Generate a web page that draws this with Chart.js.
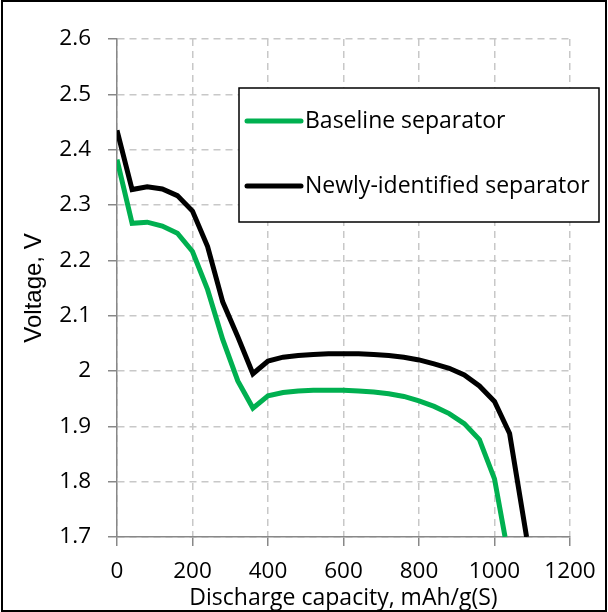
<!DOCTYPE html>
<html>
<head>
<meta charset="utf-8">
<script src="https://cdn.jsdelivr.net/npm/chart.js@4.4.0/dist/chart.umd.min.js"></script>
<style>
    html, body { margin: 0; padding: 0; background: #fff; }
    #wrap { width: 608px; height: 612px; position: relative; }
</style>
</head>
<body>
<div id="wrap"><canvas id="chart" width="608" height="612"></canvas></div>
<script>
// capacity (mAh/g(S)) and voltage (V)
const capacityBaseline = [0, 40, 80, 120, 160, 200, 240, 280, 320, 360, 400, 440, 480, 520, 560, 600, 640, 680, 720, 760, 800, 840, 880, 920, 960, 1000, 1028];
const voltageBaseline = [2.382, 2.267, 2.269, 2.262, 2.249, 2.216, 2.147, 2.057, 1.982, 1.933, 1.955, 1.961, 1.964, 1.965, 1.965, 1.965, 1.964, 1.962, 1.959, 1.954, 1.946, 1.936, 1.923, 1.905, 1.876, 1.805, 1.70];

const capacityNew = [0, 40, 80, 120, 160, 200, 240, 280, 320, 360, 400, 440, 480, 520, 560, 600, 640, 680, 720, 760, 800, 840, 880, 920, 960, 1000, 1040, 1085];
const voltageNew = [2.435, 2.328, 2.333, 2.329, 2.317, 2.289, 2.225, 2.125, 2.062, 1.995, 2.018, 2.025, 2.028, 2.030, 2.031, 2.031, 2.031, 2.030, 2.028, 2.025, 2.020, 2.013, 2.005, 1.993, 1.973, 1.945, 1.887, 1.70];

const seriesLabels = ['Baseline separator', 'Newly-identified separator'];
const seriesColors = ['#00B050', '#000000'];

const FONT = '"Open Sans", Lato, sans-serif';
const TITLE_FONT = '"Liberation Sans", Arial, sans-serif';

function toPoints(xs, ys) {
    return xs.map((x, i) => ({ x: x, y: ys[i] }));
}

// legend box drawn by hand, it sits over the plot and pokes out on the right
const boxLegend = {
    id: 'boxLegend',
    afterDraw(chart) {
        const ctx = chart.ctx;
        ctx.save();
        ctx.fillStyle = '#fff';
        ctx.fillRect(239, 88, 360, 134);
        ctx.strokeStyle = '#000';
        ctx.lineWidth = 1.5;
        ctx.strokeRect(239, 88, 360, 134);

        const rows = [121, 186];
        ctx.font = '23px ' + FONT;
        ctx.textBaseline = 'middle';
        rows.forEach((y, i) => {
            ctx.strokeStyle = seriesColors[i];
            ctx.lineWidth = 5;
            ctx.lineCap = 'round';
            ctx.beginPath();
            ctx.moveTo(247, y);
            ctx.lineTo(301, y);
            ctx.stroke();
            ctx.fillStyle = '#000';
            ctx.fillText(seriesLabels[i], 305, y);
        });

        // figure frame
        ctx.strokeStyle = '#000';
        ctx.lineWidth = 2;
        ctx.strokeRect(2, 1, 604, 610);
        ctx.restore();
    }
};

const gridStyle = {
    color: '#c8c8c8',
    lineWidth: 1.5,
    tickColor: '#888',
    tickLength: 9,
    tickBorderDash: []
};

const ctx = document.getElementById('chart').getContext('2d');
new Chart(ctx, {
    type: 'scatter',
    data: {
        datasets: [
            {
                label: seriesLabels[0],
                data: toPoints(capacityBaseline, voltageBaseline),
                showLine: true,
                borderColor: seriesColors[0],
                borderWidth: 5,
                pointRadius: 0,
                tension: 0
            },
            {
                label: seriesLabels[1],
                data: toPoints(capacityNew, voltageNew),
                showLine: true,
                borderColor: seriesColors[1],
                borderWidth: 5,
                pointRadius: 0,
                tension: 0
            }
        ]
    },
    options: {
        responsive: false,
        animation: false,
        layout: { padding: { left: 20, right: 38, top: 39, bottom: 0 } },
        plugins: {
            legend: { display: false },
            tooltip: { enabled: false }
        },
        scales: {
            x: {
                type: 'linear',
                min: 0,
                max: 1200,
                ticks: {
                    stepSize: 200,
                    color: '#000',
                    font: { family: FONT, size: 22.5 },
                    padding: 12,
                    callback: (v) => String(v)
                },
                grid: gridStyle,
                border: { color: '#888', width: 1.5, dash: [7, 5] },
                title: {
                    display: true,
                    text: 'Discharge capacity, mAh/g(S)',
                    color: '#000',
                    font: { family: FONT, size: 23 },
                    padding: { top: 0, bottom: 0 }
                },
                afterFit(scale) {
                    scale.height = 75;
                    scale.paddingLeft = 0;
                    scale.paddingRight = 0;
                }
            },
            y: {
                min: 1.7,
                max: 2.6,
                ticks: {
                    stepSize: 0.1,
                    color: '#000',
                    font: { family: FONT, size: 22.5 },
                    padding: 17,
                    callback: (v) => String(Math.round(v * 10) / 10)
                },
                grid: gridStyle,
                border: { color: '#888', width: 1.5, dash: [7, 5] },
                title: {
                    display: true,
                    text: 'Voltage, V',
                    color: '#000',
                    font: { family: TITLE_FONT, size: 24 },
                    padding: { top: 0, bottom: 0 }
                },
                afterFit(scale) { scale.width = 97; }
            }
        }
    },
    plugins: [boxLegend]
});
</script>
</body>
</html>
